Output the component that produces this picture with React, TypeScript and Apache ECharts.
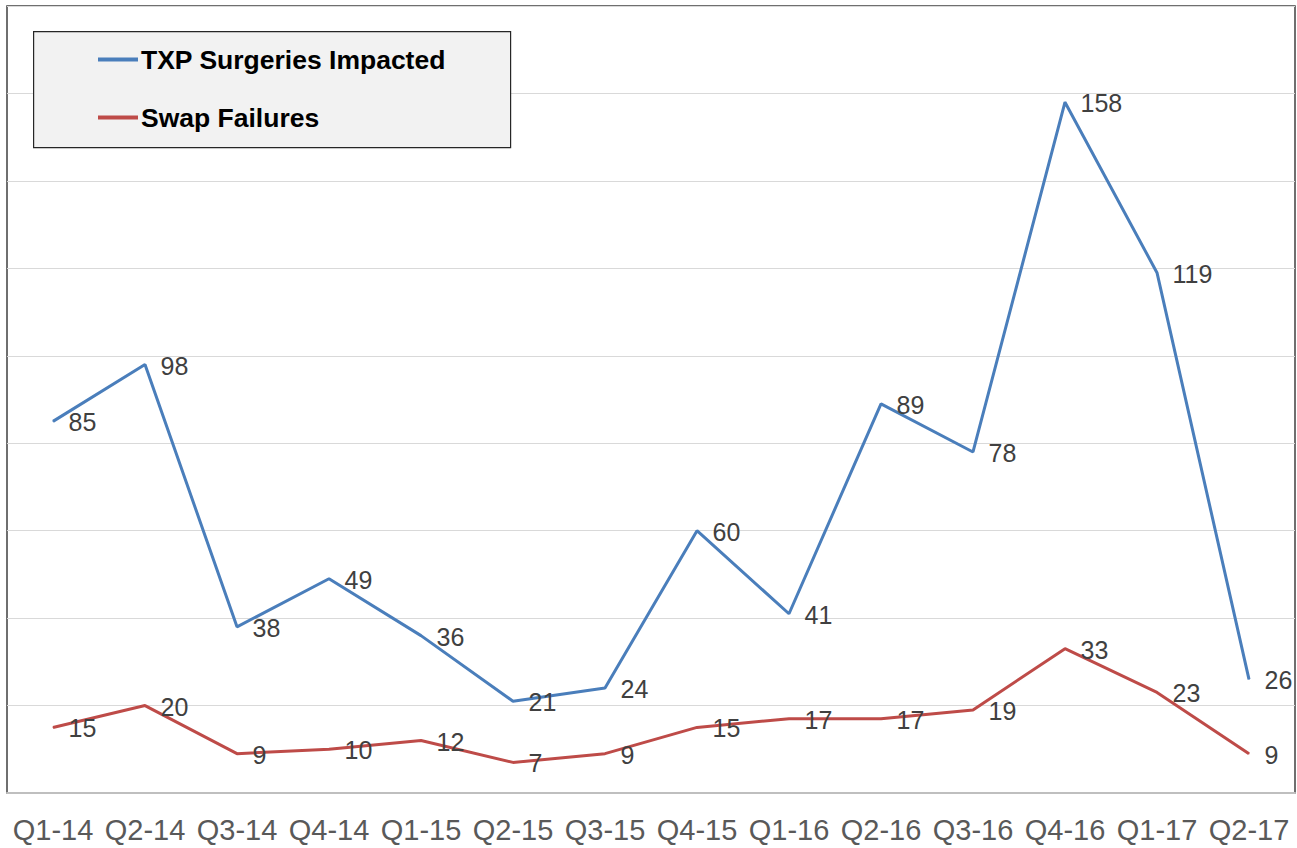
import React, { useEffect, useRef } from "react";
import * as echarts from "echarts";

const categories = ["Q1-14", "Q2-14", "Q3-14", "Q4-14", "Q1-15", "Q2-15", "Q3-15", "Q4-15", "Q1-16", "Q2-16", "Q3-16", "Q4-16", "Q1-17", "Q2-17"];
const txpSurgeries = [85, 98, 38, 49, 36, 21, 24, 60, 41, 89, 78, 158, 119, 26];
const swapFailures = [15, 20, 9, 10, 12, 7, 9, 15, 17, 17, 19, 33, 23, 9];

export default function App() {
  const ref = useRef<HTMLDivElement>(null);
  useEffect(() => {
    if (!ref.current) return;
    const chart = echarts.init(ref.current, null, { renderer: "svg" });
    const labelStyle = {
      show: true,
      position: "right" as const,
      distance: 15,
      offset: [0, 1],
      fontSize: 25,
      color: "#404040",
      fontFamily: "Liberation Sans, Arial, sans-serif",
    };
    chart.setOption({
      animation: false,
      backgroundColor: "#ffffff",
      grid: {
        left: 7,
        right: 2,
        top: 6,
        bottom: 55,
        show: true,
        borderColor: "#404040",
        borderWidth: 1.5,
        backgroundColor: "transparent",
      },
      graphic: [
        {
          type: "rect",
          left: 33,
          top: 31,
          shape: { width: 477, height: 116 },
          style: { fill: "#f2f2f2", stroke: "#262626", lineWidth: 1.2 },
          z: 10,
        },
      ],
      legend: {
        orient: "vertical",
        left: 93,
        top: 41,
        itemGap: 31,
        itemWidth: 40,
        itemHeight: 4,
        icon: "rect",
        z: 20,
        textStyle: {
          fontSize: 26.5,
          fontWeight: "bold",
          color: "#000000",
          fontFamily: "Liberation Sans, Arial, sans-serif",
          padding: [0, 0, 0, -2],
        },
        data: [
          { name: "TXP Surgeries Impacted", itemStyle: { color: "#4a7ebb" } },
          { name: "Swap Failures", itemStyle: { color: "#be4b48" } },
        ],
      },
      xAxis: {
        type: "category",
        data: categories,
        boundaryGap: true,
        axisTick: { show: false },
        axisLine: { show: true, lineStyle: { color: "#bfbfbf", width: 2 } },
        axisLabel: {
          fontSize: 29,
          color: "#595959",
          margin: 22,
          interval: 0,
          fontFamily: "Liberation Sans, Arial, sans-serif",
        },
      },
      yAxis: {
        type: "value",
        min: 0,
        max: 180,
        interval: 20,
        axisLabel: { show: false },
        axisLine: { show: false },
        axisTick: { show: false },
        splitLine: { show: true, lineStyle: { color: "#d9d9d9", width: 1 } },
      },
      series: [
        {
          name: "TXP Surgeries Impacted",
          type: "line",
          data: txpSurgeries,
          symbol: "circle",
          symbolSize: 1,
          showSymbol: true,
          lineStyle: { color: "#4a7ebb", width: 3 },
          itemStyle: { color: "#4a7ebb" },
          label: labelStyle,
        },
        {
          name: "Swap Failures",
          type: "line",
          data: swapFailures,
          symbol: "circle",
          symbolSize: 1,
          showSymbol: true,
          lineStyle: { color: "#be4b48", width: 3 },
          itemStyle: { color: "#be4b48" },
          label: labelStyle,
        },
      ],
    });
    return () => chart.dispose();
  }, []);
  return (
    <div
      ref={ref}
      style={{ position: "absolute", left: 0, top: 0, width: 1297, height: 848 }}
    />
  );
}
